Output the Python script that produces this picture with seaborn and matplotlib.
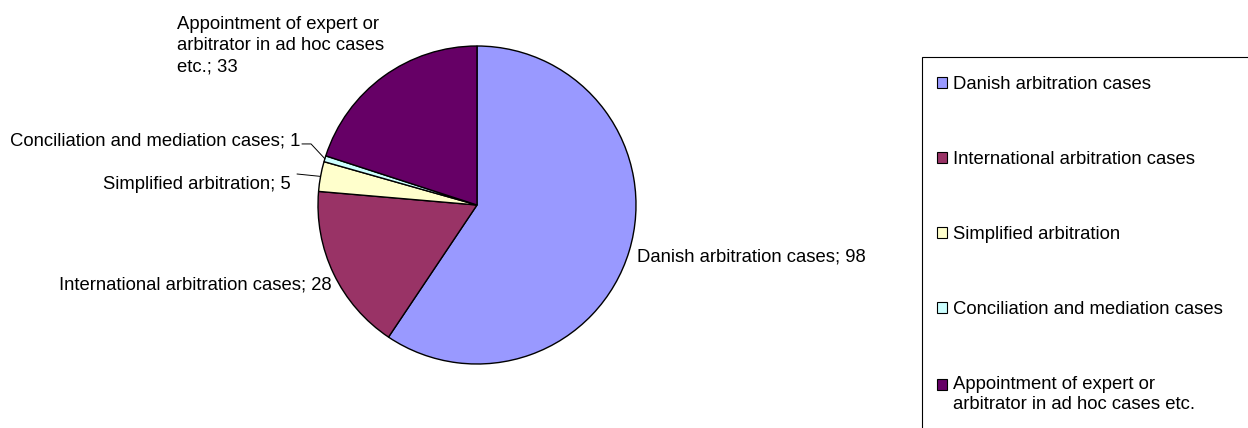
import numpy as np
import matplotlib
matplotlib.use("Agg")
import matplotlib.pyplot as plt
import seaborn as sns
from matplotlib.patches import Patch, Rectangle
from matplotlib.legend_handler import HandlerPatch

# Case counts by type
categories = [
    "Danish arbitration cases",
    "International arbitration cases",
    "Simplified arbitration",
    "Conciliation and mediation cases",
    "Appointment of expert or\narbitrator in ad hoc cases etc.",
]
counts = [98, 28, 5, 1, 33]
data_labels = [
    "Danish arbitration cases; 98",
    "International arbitration cases; 28",
    "Simplified arbitration; 5",
    "Conciliation and mediation cases; 1",
    "Appointment of expert or\narbitrator in ad hoc cases\netc.; 33",
]
colors = ["#9999FF", "#993366", "#FFFFCC", "#CCFFFF", "#660066"]

sns.set_style("white")
plt.rcParams["font.family"] = ["Liberation Sans", "DejaVu Sans"]
plt.rcParams["text.color"] = "black"
FS = 13.3

W, H = 1248, 428
fig = plt.figure(figsize=(W / 100, H / 100), dpi=100)

# pie axes: center (477, 205) px, radius 159 px
cx, cy, r = 477, 205, 159
ax = fig.add_axes([(cx - r) / W, (H - cy - r) / H, 2 * r / W, 2 * r / H])
wedges, _ = ax.pie(counts, colors=colors, startangle=90, counterclock=False,
                   wedgeprops=dict(edgecolor="black", linewidth=1.0))
ax.set_xlim(-1, 1)
ax.set_ylim(-1, 1)
ax.set_aspect("equal")
ax.axis("off")

# data labels (and leader lines for the thin slices)
label_style = [
    dict(xytext=(1.005, -0.33), ha="left", leader=None),
    dict(xytext=(-0.912, -0.50), ha="right", leader=None),
    dict(xytext=(-1.17, 0.13), ha="right",
         leader=((-1.132, 0.195), "arc3,rad=0")),
    dict(xytext=(-1.11, 0.405), ha="right",
         leader=((-1.101, 0.384), "angle,angleA=0,angleB=-47,rad=0")),
    dict(xytext=(-1.887, 1.0), ha="left", leader=None),
]
for w, txt, st in zip(wedges, data_labels, label_style):
    mid = np.deg2rad((w.theta1 + w.theta2) / 2)
    pt = (np.cos(mid), np.sin(mid))
    ax.text(*st["xytext"], txt, ha=st["ha"], va="center", fontsize=FS,
            multialignment="left", linespacing=1.32)
    if st["leader"]:
        start, style = st["leader"]
        ax.annotate("", xy=pt, xytext=start, annotation_clip=False,
                    arrowprops=dict(arrowstyle="-", color="black", lw=0.7,
                                    shrinkA=0, shrinkB=0, connectionstyle=style))

# legend frame (runs off the right and bottom edges)
fig.add_artist(Rectangle((922 / W, -0.05), 1.0, 1 - 57 / H + 0.05,
                         transform=fig.transFigure, fill=False,
                         edgecolor="black", linewidth=0.8))


def top_line_patch(legend, orig_handle, xdescent, ydescent, width, height, fontsize):
    # keep the swatch level with the first line of a two-line label
    return Rectangle((-xdescent, -ydescent + 0.54 * fontsize), width, height)


handles = [Patch(facecolor=c, edgecolor="black", linewidth=0.8) for c in colors]
fig.legend(handles, categories, loc="upper left",
           bbox_to_anchor=(937 / W, 1 - 76 / H), frameon=False,
           fontsize=FS, borderpad=0, borderaxespad=0,
           handlelength=0.55, handleheight=0.55, handletextpad=0.3,
           labelspacing=3.14,
           handler_map={handles[-1]: HandlerPatch(patch_func=top_line_patch)})

fig.savefig("out.png", dpi=100)
